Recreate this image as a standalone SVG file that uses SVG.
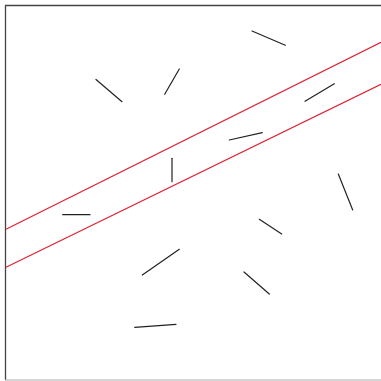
<svg xmlns="http://www.w3.org/2000/svg" width="381" height="381" viewBox="0 0 381 381">
<style>
.seg{stroke:#222;stroke-width:1.2;fill:none;stroke-linecap:round}
.red{stroke:#dd2233;stroke-width:1.2;fill:none}
</style>
<rect width="381" height="381" fill="#fff"/>
<g id="frame">
<line x1="5" y1="5.5" x2="381" y2="5.5" stroke="#444" stroke-width="1.3"/>
<line x1="5.5" y1="5" x2="5.5" y2="380" stroke="#444" stroke-width="1.3"/>
<line x1="5" y1="380" x2="381" y2="380" stroke="#aaa" stroke-width="1"/>
</g>
<g id="redlines">
<line class="red" x1="6" y1="229.3" x2="381" y2="42.3"/>
<line class="red" x1="6" y1="267.3" x2="381" y2="84.3"/>
</g>
<g id="segments">
<line class="seg" x1="96" y1="79.5" x2="122" y2="101.7"/>
<line class="seg" x1="179.3" y1="69" x2="164.7" y2="94.3"/>
<line class="seg" x1="172" y1="158.3" x2="172" y2="181.7"/>
<line class="seg" x1="252" y1="31" x2="285.3" y2="45.3"/>
<line class="seg" x1="305" y1="101.3" x2="334.3" y2="83.7"/>
<line class="seg" x1="229.3" y1="140" x2="262.3" y2="132.7"/>
<line class="seg" x1="338.3" y1="174" x2="352.7" y2="210"/>
<line class="seg" x1="62.7" y1="214.7" x2="90" y2="214.7"/>
<line class="seg" x1="142.3" y1="275" x2="179.3" y2="249.3"/>
<line class="seg" x1="134.7" y1="327.3" x2="176" y2="324.3"/>
<line class="seg" x1="259.3" y1="219.3" x2="281.7" y2="234"/>
<line class="seg" x1="244" y1="272" x2="269.3" y2="294"/>
</g>
</svg>
